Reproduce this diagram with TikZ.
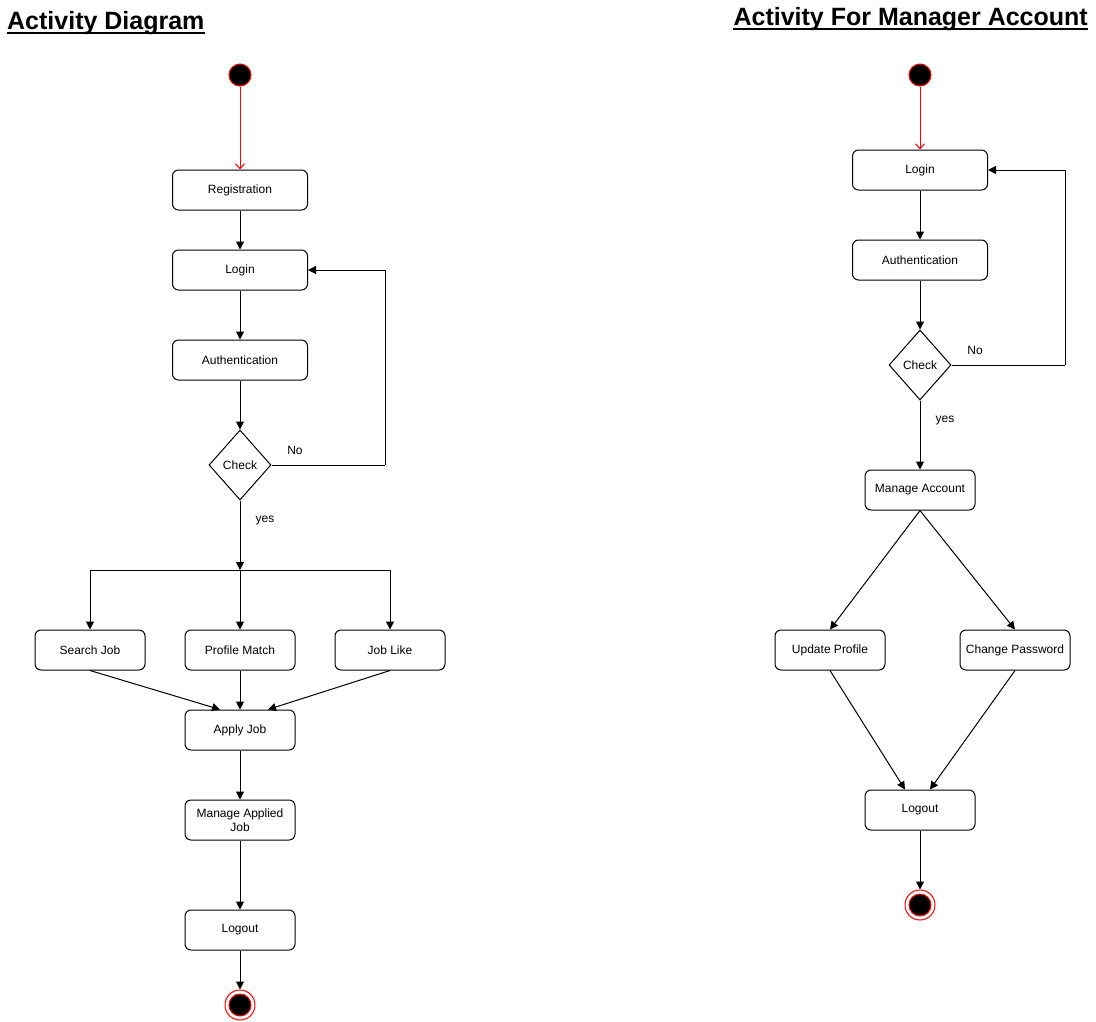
\documentclass[tikz,border=0pt]{standalone}
\usepackage{fontspec}
\setmainfont{Liberation Sans}
\usetikzlibrary{arrows.meta,shapes.geometric}
\begin{document}
\begin{tikzpicture}[x=1pt,y=-1pt,
  lbl/.style={font=\fontsize{12}{14}\selectfont},
  act/.style={draw, rounded corners=6pt, minimum height=40pt, inner sep=0pt, align=center, line width=1pt, font=\fontsize{12}{14}\selectfont},
  wide/.style={act, minimum width=135pt},
  narrow/.style={act, minimum width=110pt},
  dec/.style={draw, diamond, minimum width=62pt, minimum height=70pt, inner sep=0pt, line width=1pt, font=\fontsize{12}{14}\selectfont},
  startnode/.style={circle, fill=black, draw=red, line width=1pt, minimum size=22pt, inner sep=0pt},
  endouter/.style={circle, draw=red, line width=1pt, minimum size=30pt, inner sep=0pt},
  endinner/.style={circle, fill=black, draw=red, line width=1pt, minimum size=22pt, inner sep=0pt},
  flow/.style={line width=1pt, -{Triangle[length=8pt,width=8pt]}},
  plain/.style={line width=1pt},
  redflow/.style={red, line width=1pt, -{Straight Barb[length=5pt,width=9pt]}},
  ttl/.style={font=\bfseries\fontsize{25}{30}\selectfont, inner sep=0pt},
  ul/.style={line width=2pt}
]
\useasboundingbox (0,0) rectangle (1096,1021);

% ---------- Titles ----------
\node[ttl, anchor=base west] (t1) at (7,29) {Activity Diagram};
\draw[ul] ([yshift=-3.5pt]t1.base west) -- ([yshift=-3.5pt]t1.base east);
\node[ttl, anchor=base east] (t2) at (1088,25) {Activity For Manager Account};
\draw[ul] ([yshift=-3.5pt]t2.base west) -- ([yshift=-3.5pt]t2.base east);

% ---------- Left diagram ----------
\node[startnode] (s1) at (240,75) {};
\node[wide] (reg) at (240,190) {Registration};
\node[wide] (login1) at (240,270) {Login};
\node[wide] (auth1) at (240,360) {Authentication};
\node[dec] (chk1) at (240,465) {Check};
\node[lbl] (no1) at (295,450) {No};
\node[lbl] (yes1) at (265,521) {yes};
\coordinate (fork1) at (240,570);
\coordinate (fl) at (90,570);
\coordinate (fr) at (390,570);
\coordinate (lp1) at (385,465);
\node[narrow] (search) at (90,650) {Search Job};
\node[narrow] (match) at (240,650) {Profile Match};
\node[narrow] (like) at (390,650) {Job Like};
\node[narrow] (apply) at (240,730) {Apply Job};
\node[narrow] (mng) at (240,820) {Manage Applied\\Job};
\node[narrow] (logout1) at (240,930) {Logout};
\node[endouter] (e1) at (240,1005) {};
\node[endinner] (e1i) at (e1) {};

\draw[redflow] (s1) -- (reg);
\draw[flow] (reg) -- (login1);
\draw[flow] (login1) -- (auth1);
\draw[flow] (auth1) -- (chk1);
\draw[plain] (chk1.east) -- (lp1);
\draw[flow] (lp1) |- (login1.east);
\draw[flow] (chk1.south) -- (fork1);
\draw[plain] (fl) -- (fr);
\draw[flow] (fl) -- (search);
\draw[flow] (fork1) -- (match);
\draw[flow] (fr) -- (like);
\draw[flow] (search.south) -- ([xshift=-20pt]apply.north);
\draw[flow] (match) -- (apply);
\draw[flow] (like.south) -- ([xshift=28pt]apply.north);
\draw[flow] (apply) -- (mng);
\draw[flow] (mng) -- (logout1);
\draw[flow] (logout1) -- (e1);

% ---------- Right diagram ----------
\node[startnode] (s2) at (920,75) {};
\node[wide] (login2) at (920,170) {Login};
\node[wide] (auth2) at (920,260) {Authentication};
\node[dec] (chk2) at (920,365) {Check};
\node[lbl] (no2) at (975,350) {No};
\node[lbl] (yes2) at (945,421) {yes};
\coordinate (lp2) at (1065,365);
\node[narrow] (manage) at (920,490) {Manage Account};
\node[narrow] (upd) at (830,650) {Update Profile};
\node[narrow] (chg) at (1015,650) {Change Password};
\node[narrow] (logout2) at (920,810) {Logout};
\node[endouter] (e2) at (920,905) {};
\node[endinner] (e2i) at (e2) {};

\draw[redflow] (s2) -- (login2);
\draw[flow] (login2) -- (auth2);
\draw[flow] (auth2) -- (chk2);
\draw[plain] (chk2.east) -- (lp2);
\draw[flow] (lp2) |- (login2.east);
\draw[flow] (chk2.south) -- (manage);
\draw[flow] (manage.south) -- (upd.north);
\draw[flow] (manage.south) -- (chg.north);
\draw[flow] (upd.south) -- ([xshift=-15pt]logout2.north);
\draw[flow] (chg.south) -- ([xshift=10pt]logout2.north);
\draw[flow] (logout2) -- (e2);
\end{tikzpicture}
\end{document}
